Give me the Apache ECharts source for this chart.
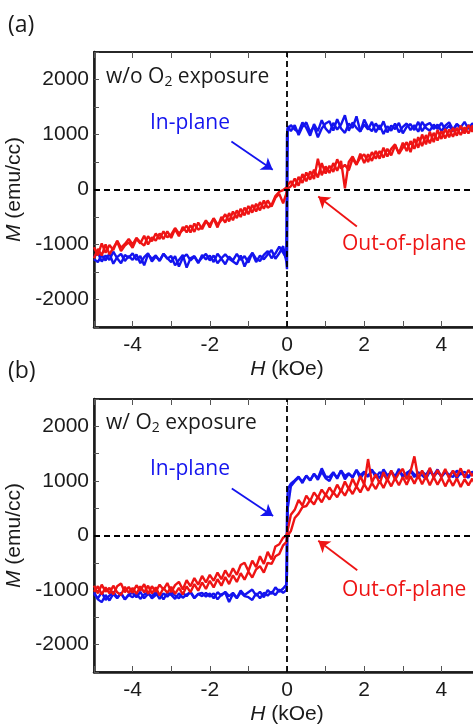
<!DOCTYPE html>
<html>
<head>
<meta charset="utf-8">
<script src="https://cdn.jsdelivr.net/npm/echarts@6/dist/echarts.min.js"></script>
<style>
html, body { margin: 0; padding: 0; background: #fff; }
#main { width: 473px; height: 725px; }
</style>
</head>
<body>
<div id="main"></div>
<script>
// Field grid (kOe), shared by every branch
const H = [
  -5, -4.9, -4.8, -4.7, -4.6, -4.5, -4.4, -4.3, -4.2, -4.1,
  -4, -3.9, -3.8, -3.7, -3.6, -3.5, -3.4, -3.3, -3.2, -3.1,
  -3, -2.9, -2.8, -2.7, -2.6, -2.5, -2.4, -2.3, -2.2, -2.1,
  -2, -1.9, -1.8, -1.7, -1.6, -1.5, -1.4, -1.3, -1.2, -1.1,
  -1, -0.9, -0.8, -0.7, -0.6, -0.5, -0.4, -0.3, -0.2, -0.1,
  -0.02, 0, 0.02,
  0.1, 0.2, 0.3, 0.4, 0.5, 0.6, 0.7, 0.8, 0.9, 1,
  1.1, 1.2, 1.3, 1.4, 1.5, 1.6, 1.7, 1.8, 1.9, 2,
  2.1, 2.2, 2.3, 2.4, 2.5, 2.6, 2.7, 2.8, 2.9, 3,
  3.1, 3.2, 3.3, 3.4, 3.5, 3.6, 3.7, 3.8, 3.9, 4,
  4.1, 4.2, 4.3, 4.4, 4.5, 4.6, 4.7, 4.8, 4.9, 5
];

// (a) w/o O2 exposure, M (emu/cc)
const inPlaneA_down = [
  -1230, -1150, -1310, -1200, -1280, -1130, -1250, -1340, -1190, -1240,
  -1160, -1280, -1210, -1380, -1180, -1260, -1200, -1300, -1170, -1250,
  -1320, -1210, -1400, -1240, -1180, -1290, -1220, -1340, -1190, -1270,
  -1200, -1320, -1170, -1260, -1360, -1220, -1290, -1170, -1280, -1210,
  -1330, -1150, -1260, -1300, -1190, -1120, -1250, -1160, -1040, -1150,
  -1250, 1000, 1150,
  1060, 1170, 990, 1140, 1220, 1040, 1150, 950, 1110, 1200,
  1240, 1070, 1280, 1110, 1030, 1200, 1120, 1330, 1060, 1180,
  1090, 1230, 1040, 1170, 1010, 1150, 1070, 1200, 1040, 1140,
  1200, 1080, 1170, 1050, 1230, 1120, 1070, 1180, 1100, 1210,
  1090, 1160, 1060, 1190, 1110, 1040, 1170, 1120, 1200, 1150
];
const inPlaneA_up = [
  -1270, -1320, -1190, -1290, -1160, -1350, -1230, -1170, -1300, -1210,
  -1280, -1180, -1340, -1230, -1160, -1310, -1220, -1290, -1170, -1260,
  -1210, -1380, -1280, -1190, -1420, -1250, -1210, -1320, -1240, -1170,
  -1290, -1200, -1340, -1250, -1180, -1260, -1310, -1360, -1200, -1400,
  -1250, -1160, -1320, -1200, -1270, -1180, -1100, -1260, -1160, -1030,
  -1300, -1450, 1100,
  1170, 1090, 1040, 1220, 1120, 980, 1190, 1060, 1260, 1110,
  1030, 1210, 1090, 1180, 1350, 1070, 1220, 1120, 1050, 1270,
  1130, 1060, 1200, 1090, 1240, 1040, 1160, 1100, 1210, 1020,
  1140, 1190, 1080, 1230, 1060, 1170, 1210, 1100, 1180, 1060,
  1160, 1220, 1090, 1190, 1130, 1230, 1100, 1200, 1140, 1210
];
const outPlaneA_down = [
  -1050, -1200, -980, -1150, -1010, -1100, -930, -1060, -990, -900,
  -1000, -880, -960, -1020, -850, -940, -800, -900, -760, -870,
  -820, -700, -800, -740, -660, -780, -620, -730, -680, -560,
  -690, -520, -640, -560, -450, -580, -400, -520, -350, -470,
  -300, -420, -260, -380, -200, -330, -280, -120, -40, -10,
  30, 60, 80,
  150, 40, 230, 120, 310, 180, 360, 220, 480, 290,
  430, 320, 550, 380, 450, 350, 560, 450, 650, 480,
  640, 520, 700, 560, 760, 600, 740, 820, 650, 760,
  860, 680, 920, 760, 1000, 820, 1050, 860, 1080, 920,
  1100, 950, 1120, 980, 1160, 1020, 1170, 1050, 1210, 1090
];
const outPlaneA_up = [
  -1250, -1080, -1200, -1000, -1180, -1060, -950, -1120, -1020, -960,
  -1060, -900, -980, -840, -1000, -870, -930, -800, -900, -760,
  -880, -720, -850, -680, -780, -650, -770, -600, -720, -580,
  -640, -530, -690, -500, -600, -430, -560, -380, -500, -330,
  -450, -280, -400, -230, -350, -200, -310, -150, -80, -250,
  -80, -20, 20,
  60, 200, 70, 280, 150, 330, 190, 560, 260, 420,
  300, 480, 340, 520, 20, 500, 600, 460, 580, 640,
  500, 680, 560, 700, 580, 740, 620, 800, 660, 850,
  700, 880, 740, 950, 790, 990, 840, 1030, 890, 1060,
  930, 1090, 960, 1120, 990, 1130, 1020, 1160, 1060, 1180
];

// (b) w/ O2 exposure, M (emu/cc)
const inPlaneB_down = [
  -1070, -1150, -1040, -1180, -1100, -1030, -1140, -1060, -1170, -1080,
  -1050, -1130, -1030, -1150, -1070, -1110, -1040, -1160, -1060, -1120,
  -1040, -1100, -1150, -1050, -1110, -1030, -1140, -1070, -1050, -1120,
  -1060, -1150, -1040, -1100, -1030, -1110, -1050, -1140, -1010, -1090,
  -1040, -990, -1100, -1030, -1130, -1000, -1070, -950, -1030, -970,
  -900, 400, 850,
  950, 1010, 1080, 960, 1100, 1010, 1130, 1020, 1170, 1050,
  1000, 1140, 1060, 1190, 1030, 1130, 1070, 1200, 1040, 1150,
  1080, 1210, 1060, 1160, 1110, 1040, 1180, 1080, 1220, 1060,
  1150, 1190, 1070, 1160, 1100, 1040, 1170, 1100, 1210, 1070,
  1160, 1090, 1180, 1050, 1150, 1100, 1060, 1170, 1110, 1090
];
const inPlaneB_up = [
  -1040, -1170, -1220, -1090, -1190, -1070, -1150, -1050, -1170, -1090,
  -1130, -1060, -1160, -1080, -1040, -1150, -1090, -1070, -1170, -1050,
  -1090, -1160, -1060, -1140, -1080, -1040, -1150, -1070, -1110, -1050,
  -1120, -1060, -1170, -1080, -1050, -1220, -1070, -1150, -1040, -1110,
  -1130, -1180, -1060, -1150, -1050, -1100, -1030, -1090, -990, -1050,
  -1000, -700, 500,
  900, 990, 1060, 990, 1090, 1010, 1130, 1050, 1230, 1080,
  1070, 1160, 1040, 1190, 1090, 1140, 1060, 1200, 1100, 1170,
  1080, 1190, 1120, 1050, 1210, 1100, 1160, 1070, 1180, 1110,
  1090, 1200, 1120, 1060, 1170, 1110, 1220, 1080, 1160, 1090,
  1180, 1110, 1070, 1190, 1120, 1170, 1080, 1160, 1100, 1150
];
const outPlaneB_down = [
  -920, -1060, -900, -1030, -960, -1080, -930, -880, -1040, -940,
  -1050, -910, -1010, -890, -1070, -930, -1030, -900, -990, -870,
  -1040, -910, -850, -990, -820, -930, -780, -900, -740, -860,
  -720, -830, -680, -800, -640, -760, -600, -720, -540, -500,
  -650, -460, -580, -380, -520, -300, -440, -200, -160, -40,
  0, 40, 100,
  380, 470, 650, 550, 730, 630, 790, 690, 840, 740,
  880, 770, 930, 810, 990, 850, 1040, 890, 1090, 930,
  1400, 970, 1120, 950, 1160, 1000, 1190, 1020, 1140, 1220,
  1030, 1170, 1450, 1040, 1190, 1040, 1240, 1060, 1200, 1070,
  1220, 1050, 1190, 1080, 1230, 1060, 1200, 1090, 1220, 1110
];
const outPlaneB_up = [
  -1030, -930, -1080, -950, -1060, -920, -1040, -1090, -940, -1050,
  -960, -1070, -930, -1040, -920, -1060, -950, -1100, -960, -1050,
  -940, -1070, -960, -1080, -930, -1040, -890, -1010, -860, -980,
  -830, -950, -800, -920, -760, -890, -730, -850, -690, -810,
  -660, -770, -620, -560, -680, -500, -520, -380, -340, -180,
  -120, -60, 0,
  80, 320, 400, 520, 540, 650, 570, 710, 610, 750,
  660, 790, 700, 830, 730, 870, 760, 900, 790, 940,
  820, 960, 850, 1000, 870, 1030, 900, 1050, 920, 1070,
  930, 1090, 950, 1100, 940, 1080, 920, 1070, 930, 1060,
  900, 1040, 910, 1050, 890, 1030, 920, 1040, 900, 1010
];

const BLUE = "#1414ee";
const RED = "#ee1414";
const INK = "#1a1a1a";
const TICK_FONT = "Liberation Sans";
const NOTE_FONT = "Open Sans";

const chart = echarts.init(document.getElementById("main"), null, { renderer: "canvas" });

const pairs = (arr) => H.map((h, i) => [h, arr[i]]);

// builds the axes of one panel (bottom + mirrored top x, left y)
const xAxisFor = (gridIndex, top) => ({
    type: "value",
    gridIndex: gridIndex,
    position: top ? "top" : "bottom",
    min: -5,
    max: 5,
    interval: 1,
    name: top ? "" : "{i|H} (kOe)",
    nameLocation: "middle",
    nameGap: 32,
    nameTextStyle: {
        rich: {
            i: { fontStyle: "italic", fontSize: 21, fontFamily: TICK_FONT, color: INK },
        },
        fontSize: 21,
        fontFamily: TICK_FONT,
        color: INK,
    },
    axisLine: { show: true, onZero: false, lineStyle: { color: INK, width: top ? 1.5 : 2.5 } },
    axisTick: { show: true, inside: true, length: 6, lineStyle: { color: "#555", width: 1 } },
    axisLabel: {
        show: !top,
        margin: 8,
        fontSize: 21,
        fontFamily: TICK_FONT,
        color: INK,
        formatter: (v) => (v % 2 === 0 ? String(v) : ""),
    },
    splitLine: { show: false },
});

const yAxisFor = (gridIndex) => ({
    type: "value",
    gridIndex: gridIndex,
    min: -2500,
    max: 2500,
    interval: 500,
    name: "{i|M} (emu/cc)",
    nameLocation: "middle",
    nameGap: 58,
    nameRotate: 90,
    nameTextStyle: {
        rich: {
            i: { fontStyle: "italic", fontSize: 21, fontFamily: TICK_FONT, color: INK },
        },
        fontSize: 21,
        fontFamily: TICK_FONT,
        color: INK,
    },
    axisLine: { show: true, onZero: false, lineStyle: { color: INK, width: 2.5 } },
    axisTick: { show: true, inside: true, length: 5, lineStyle: { color: "#555", width: 1 } },
    axisLabel: {
        margin: 5,
        fontSize: 21,
        fontFamily: TICK_FONT,
        color: INK,
        formatter: (v) => (v % 1000 === 0 ? String(v) : ""),
    },
    splitLine: { show: false },
});

const zeroLines = {
    silent: true,
    symbol: ["none", "none"],
    label: { show: false },
    lineStyle: { color: "#000", type: [6, 4], width: 1.8 },
    data: [{ xAxis: 0 }, { yAxis: 0 }],
};

// arrow from label to curve, in data coordinates
const arrow = (color, from, to) => ({
    silent: true,
    symbol: ["none", "arrow"],
    symbolSize: 11,
    label: { show: false },
    lineStyle: { color: color, type: "solid", width: 1.8 },
    data: [[{ coord: from }, { coord: to }]],
});

const branch = (name, color, data, xi, yi, extra) =>
    Object.assign(
        {
            name: name,
            type: "line",
            xAxisIndex: xi,
            yAxisIndex: yi,
            data: pairs(data),
            showSymbol: false,
            symbol: "none",
            smooth: false,
            lineStyle: { color: color, width: 2.4 },
            itemStyle: { color: color },
            animation: false,
            clip: true,
        },
        extra || {}
    );

const noteText = (text, left, top, color, size) => ({
    type: "text",
    left: left,
    top: top,
    style: { text: text, fill: color, font: (size || 21) + "px '" + NOTE_FONT + "'" },
});

const exposureText = (main, top) => ({
    type: "text",
    left: 106,
    top: top,
    style: {
        text: "{a|" + main + " O}{s|2}{a| exposure}",
        rich: {
            a: { fontSize: 21, fontFamily: NOTE_FONT, fill: INK, color: INK },
            s: { fontSize: 14, fontFamily: NOTE_FONT, fill: INK, color: INK, padding: [9, 0, 0, 0] },
        },
    },
});

const options = {
    backgroundColor: "#fff",
    animation: false,
    grid: [
        { left: 94, top: 52, width: 386, height: 275, show: true, borderColor: INK, borderWidth: 1.5, outerBoundsMode: "none", containLabel: false },
        { left: 94, top: 399, width: 386, height: 273, show: true, borderColor: INK, borderWidth: 1.5, outerBoundsMode: "none", containLabel: false },
    ],
    xAxis: [xAxisFor(0, false), xAxisFor(0, true), xAxisFor(1, false), xAxisFor(1, true)],
    yAxis: [yAxisFor(0), yAxisFor(1)],
    series: [
        branch("In-plane a down", BLUE, inPlaneA_down, 0, 0, { markLine: arrow(BLUE, [-1.44, 873], [-0.37, 358]) }),
        branch("In-plane a up", BLUE, inPlaneA_up, 0, 0),
        branch("Out-of-plane a down", RED, outPlaneA_down, 0, 0, { markLine: arrow(RED, [1.81, -673], [0.81, -127]) }),
        branch("Out-of-plane a up", RED, outPlaneA_up, 0, 0, { markLine: zeroLines }),
        branch("In-plane b down", BLUE, inPlaneB_down, 2, 1, { markLine: arrow(BLUE, [-1.43, 863], [-0.36, 358]) }),
        branch("In-plane b up", BLUE, inPlaneB_up, 2, 1),
        branch("Out-of-plane b down", RED, outPlaneB_down, 2, 1, { markLine: arrow(RED, [1.82, -638], [0.81, -96]) }),
        branch("Out-of-plane b up", RED, outPlaneB_up, 2, 1, { markLine: zeroLines }),
    ],
    graphic: [
        noteText("(a)", 8, 14, INK, 23),
        noteText("(b)", 8, 360, INK, 23),
        exposureText("w/o", 67),
        exposureText("w/", 413),
        noteText("In-plane", 150, 113, BLUE),
        noteText("Out-of-plane", 342, 234, RED),
        noteText("In-plane", 150, 459, BLUE),
        noteText("Out-of-plane", 342, 580, RED),
    ],
};

chart.setOption(options);
</script>
</body>
</html>
